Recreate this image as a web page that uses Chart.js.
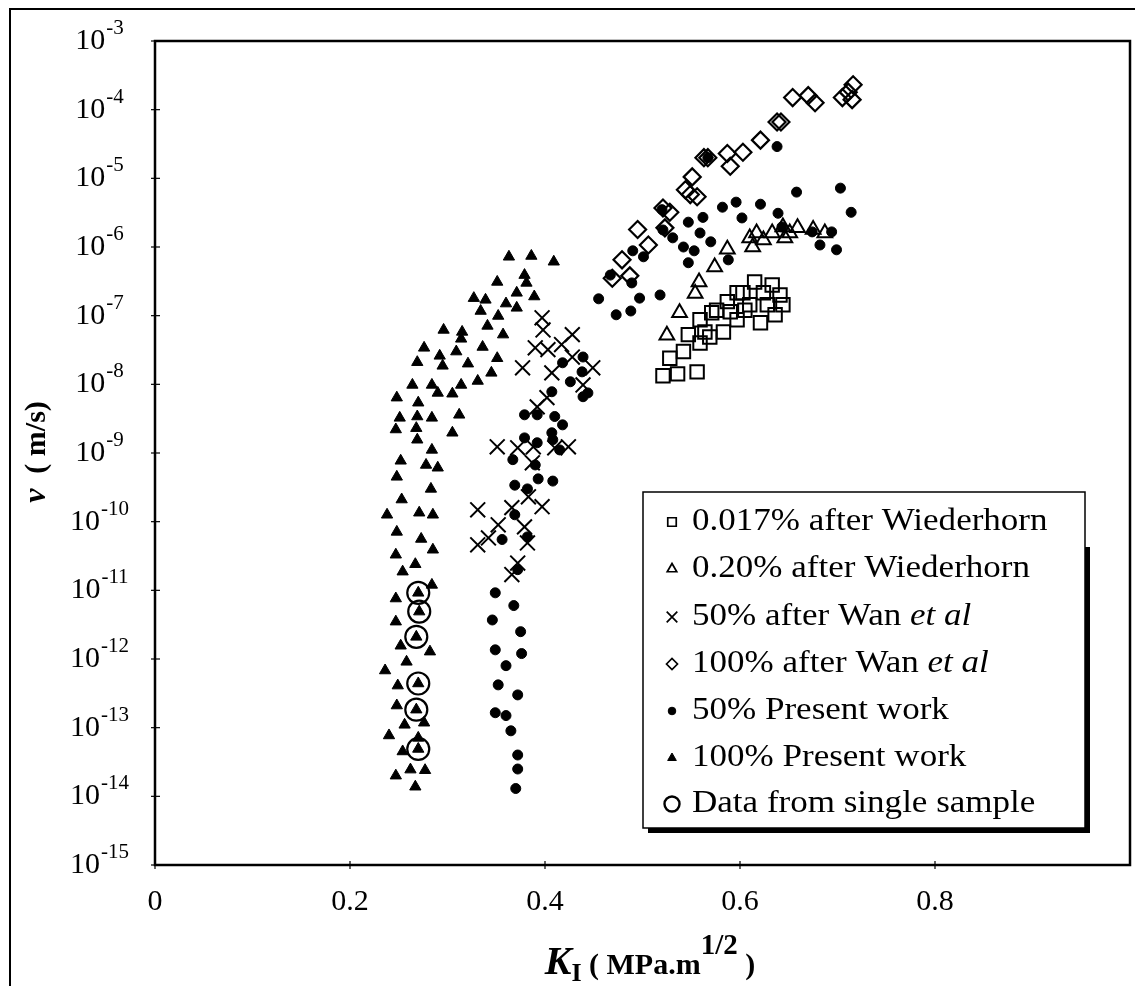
<!DOCTYPE html>
<html>
<head>
<meta charset="utf-8">
<script src="https://cdn.jsdelivr.net/npm/chart.js@4.4.0/dist/chart.umd.min.js"></script>
<style>
  html, body { margin: 0; padding: 0; background: #fff; }
  #wrap { width: 1135px; height: 986px; }
</style>
</head>
<body>
<div id="wrap"><canvas id="crackChart" width="1135" height="986"></canvas></div>
<script>
const serif = '"Liberation Serif", "Times New Roman", serif';

// K_I (MPa.m^1/2) / v (m/s)
const sqK = [0.521, 0.536, 0.556, 0.528, 0.542, 0.559, 0.564, 0.571, 0.576, 0.587, 0.597, 0.615, 0.624, 0.610,
             0.597, 0.583, 0.569, 0.621, 0.628, 0.547, 0.559, 0.633, 0.603, 0.641, 0.644, 0.636, 0.590, 0.605];
const sqV = [1.33e-8, 1.42e-8, 1.52e-8, 2.4e-8, 3.0e-8, 4.0e-8, 5.8e-8, 1.1e-7, 1.2e-7, 1.6e-7, 2.15e-7, 3.1e-7, 2.15e-7, 1.44e-7,
             8.7e-8, 5.8e-8, 4.9e-8, 7.9e-8, 1.44e-7, 5.3e-8, 8.7e-8, 2.8e-7, 2.15e-7, 2.0e-7, 1.44e-7, 1.03e-7, 1.14e-7, 1.2e-7];

const otK = [0.587, 0.574, 0.558, 0.554, 0.538, 0.525, 0.610, 0.617, 0.624, 0.613, 0.633, 0.644, 0.646, 0.651, 0.659, 0.675, 0.687];
const otV = [9.3e-7, 5.1e-7, 3.1e-7, 2.1e-7, 1.1e-7, 5.2e-8, 1.35e-6, 1.6e-6, 1.26e-6, 1.0e-6, 1.6e-6, 1.96e-6, 1.35e-6, 1.6e-6, 1.9e-6, 1.8e-6, 1.6e-6];

const xK = [0.397, 0.398, 0.390, 0.403, 0.428, 0.417, 0.377, 0.407, 0.428, 0.449, 0.439, 0.402, 0.392, 0.351, 0.372,
            0.388, 0.387, 0.424, 0.410, 0.331, 0.366, 0.397, 0.383, 0.352, 0.379, 0.342, 0.382, 0.331, 0.366, 0.372];
const xV = [9.3e-8, 6.2e-8, 3.4e-8, 3.2e-8, 5.3e-8, 3.8e-8, 1.74e-8, 1.47e-8, 2.5e-8, 1.74e-8, 9.8e-9, 6.4e-9, 4.7e-9, 1.23e-9, 1.19e-9,
            1.23e-9, 7.2e-10, 1.23e-9, 1.19e-9, 1.49e-10, 1.6e-10, 1.65e-10, 2.3e-10, 9.0e-11, 8.4e-11, 5.8e-11, 4.9e-11, 4.6e-11, 1.7e-11, 2.5e-11];

const dmK = [0.716, 0.705, 0.715, 0.711, 0.654, 0.670, 0.677, 0.638, 0.642, 0.621, 0.603, 0.587, 0.590, 0.567,
             0.563, 0.551, 0.544, 0.556, 0.549, 0.521, 0.528, 0.523, 0.495, 0.506, 0.479, 0.487, 0.469];
const dmV = [2.3e-4, 1.5e-4, 1.4e-4, 1.8e-4, 1.5e-4, 1.6e-4, 1.26e-4, 6.6e-5, 6.6e-5, 3.6e-5, 2.4e-5, 2.3e-5, 1.5e-5, 2.0e-5,
             2.0e-5, 1.05e-5, 6.8e-6, 5.4e-6, 5.8e-6, 3.7e-6, 3.2e-6, 1.9e-6, 1.8e-6, 1.07e-6, 6.5e-7, 3.8e-7, 3.5e-7];

const dotK = [0.638, 0.658, 0.703, 0.714, 0.694, 0.699, 0.682, 0.639, 0.621, 0.596, 0.582, 0.602, 0.562, 0.547, 0.559,
              0.570, 0.542, 0.553, 0.547, 0.588, 0.531, 0.520, 0.490, 0.501, 0.489, 0.467, 0.455, 0.473, 0.488, 0.497,
              0.518, 0.567, 0.643, 0.674, 0.521,
              0.439, 0.418, 0.438, 0.426, 0.439, 0.444, 0.407, 0.379, 0.392, 0.410, 0.418, 0.407, 0.408, 0.379, 0.392,
              0.415, 0.367, 0.390, 0.393, 0.408, 0.369, 0.382, 0.369, 0.382, 0.356,
              0.349, 0.346, 0.349, 0.352, 0.349, 0.372, 0.368, 0.375, 0.360, 0.372, 0.365, 0.372, 0.372, 0.370, 0.360, 0.376];
const dotV = [2.9e-5, 6.3e-6, 7.2e-6, 3.2e-6, 1.66e-6, 9.1e-7, 1.07e-6, 3.1e-6, 4.2e-6, 4.5e-6, 3.8e-6, 2.65e-6, 2.7e-6, 2.3e-6, 1.6e-6,
              1.19e-6, 1.0e-6, 8.8e-7, 5.9e-7, 6.5e-7, 1.36e-6, 3.5e-6, 8.8e-7, 7.2e-7, 3.0e-7, 3.9e-7, 1.76e-7, 1.03e-7, 1.17e-7, 1.8e-7,
              2.0e-7, 2.0e-5, 1.96e-6, 1.66e-6, 1.77e-6,
              2.5e-8, 2.06e-8, 1.52e-8, 1.09e-8, 6.6e-9, 7.5e-9, 7.8e-9, 3.6e-9, 3.6e-9, 3.4e-9, 2.57e-9, 1.97e-9, 1.56e-9, 1.66e-9, 1.41e-9,
              1.11e-9, 8.0e-10, 6.7e-10, 4.2e-10, 3.9e-10, 3.4e-10, 3.0e-10, 1.26e-10, 6.0e-11, 5.5e-11,
              9.2e-12, 3.7e-12, 1.36e-12, 4.2e-13, 1.65e-13, 2.0e-11, 6e-12, 2.5e-12, 8e-13, 3e-13, 9e-14, 4e-14, 2.5e-14, 1.3e-14, 1.5e-13, 1.2e-12];

const ftK = [0.363, 0.386, 0.409, 0.351, 0.379, 0.381, 0.327, 0.339, 0.334, 0.360, 0.371, 0.371, 0.389, 0.352, 0.341,
             0.296, 0.315, 0.314, 0.357, 0.336, 0.276, 0.269, 0.292, 0.295, 0.309, 0.321, 0.351, 0.345, 0.331, 0.264,
             0.284, 0.290, 0.305, 0.314, 0.248, 0.270, 0.251, 0.269, 0.284, 0.312, 0.247, 0.268, 0.269, 0.305, 0.284,
             0.252, 0.278, 0.290, 0.248, 0.283, 0.253, 0.238, 0.271, 0.285, 0.248, 0.273, 0.285, 0.247, 0.267, 0.254,
             0.284, 0.247, 0.270, 0.271, 0.247, 0.268, 0.252, 0.282, 0.258, 0.236, 0.249, 0.270, 0.248, 0.268, 0.256,
             0.276, 0.240, 0.254, 0.270, 0.247, 0.262, 0.277, 0.267, 0.270];
const ftV = [7.2e-7, 7.4e-7, 6.1e-7, 3.1e-7, 3.9e-7, 3.0e-7, 1.8e-7, 1.7e-7, 1.17e-7, 1.5e-7, 2.15e-7, 1.3e-7, 1.9e-7, 9.9e-8, 7.1e-8,
             6.2e-8, 5.8e-8, 4.6e-8, 5.3e-8, 3.5e-8, 3.4e-8, 2.1e-8, 2.6e-8, 1.86e-8, 3.0e-8, 2.0e-8, 2.4e-8, 1.47e-8, 1.12e-8, 9.8e-9,
             9.8e-9, 7.5e-9, 7.3e-9, 9.8e-9, 6.4e-9, 5.4e-9, 3.25e-9, 3.4e-9, 3.25e-9, 3.6e-9, 2.2e-9, 2.3e-9, 1.56e-9, 1.97e-9, 1.11e-9,
             7.7e-10, 6.7e-10, 6.1e-10, 4.5e-10, 3.0e-10, 2.1e-10, 1.26e-10, 1.35e-10, 1.26e-10, 7.1e-11, 5.6e-11, 3.9e-11, 3.3e-11, 2.4e-11, 1.87e-11,
             1.2e-11, 7.6e-12, 9.2e-12, 4.9e-12, 3.5e-12, 2.1e-12, 1.56e-12, 1.28e-12, 9.1e-13, 6.8e-13, 4.1e-13, 4.4e-13, 2.1e-13, 1.83e-13, 1.1e-13,
             1.18e-13, 7.7e-14, 4.5e-14, 4.9e-14, 2.0e-14, 2.45e-14, 2.4e-14, 1.38e-14, 7.1e-14];

const ssK = [0.270, 0.271, 0.268, 0.270, 0.268, 0.270];
const ssV = [9.2e-12, 4.9e-12, 2.1e-12, 4.4e-13, 1.83e-13, 4.9e-14];

const xTicks = [0, 0.2, 0.4, 0.6, 0.8];
const xTickText = ['0', '0.2', '0.4', '0.6', '0.8'];
const yTickExp = [-3, -4, -5, -6, -7, -8, -9, -10, -11, -12, -13, -14, -15];

const seriesNames = ['0.017% after Wiederhorn', '0.20% after Wiederhorn', '50% after Wan ', '100% after Wan ',
                     '50% Present work', '100% Present work', 'Data from single sample'];

const pts = (ks, vs) => ks.map((k, i) => ({ x: k, y: vs[i] }));
const none = 'rgba(0,0,0,0)';

function series(i, ks, vs, style, radius, fill, bw) {
  return {
    label: seriesNames[i],
    data: pts(ks, vs),
    pointStyle: style,
    pointRadius: radius,
    pointBorderWidth: bw,
    pointBorderColor: '#000',
    pointBackgroundColor: fill ? '#000' : none,
    showLine: false
  };
}

const datasets = [
  series(0, sqK, sqV, 'rect', 9.5, false, 2),
  series(1, otK, otV, 'triangle', 8.5, false, 2),
  series(2, xK, xV, 'crossRot', 10.5, false, 2),
  series(3, dmK, dmV, 'rectRot', 8.5, false, 2.2),
  series(4, dotK, dotV, 'circle', 5, true, 1),
  series(5, ftK, ftV, 'triangle', 6.5, true, 1),
  series(6, ssK, ssV, 'circle', 11, false, 2.2)
];

// frame, ticks, axis titles and legend drawn by hand
const decor = {
  id: 'decor',
  afterDraw(chart) {
    const { ctx, chartArea: a, scales: { x, y } } = chart;
    ctx.save();
    ctx.strokeStyle = '#000';
    ctx.fillStyle = '#000';

    ctx.lineWidth = 2;
    ctx.strokeRect(10, 9, 1150, 1000);
    ctx.lineWidth = 2.5;
    ctx.strokeRect(a.left, a.top, a.right - a.left, a.bottom - a.top);

    ctx.lineWidth = 1.2;
    yTickExp.forEach(e => {
      const py = y.getPixelForValue(Math.pow(10, e));
      ctx.beginPath(); ctx.moveTo(a.left - 4, py); ctx.lineTo(a.left + 5, py); ctx.stroke();
      const sup = '-' + (-e);
      ctx.font = `30px ${serif}`;
      const wb = ctx.measureText('10').width;
      ctx.font = `21px ${serif}`;
      const ws = ctx.measureText(sup).width;
      const x0 = 99 - (wb + ws) / 2;
      ctx.textAlign = 'left';
      ctx.textBaseline = 'alphabetic';
      ctx.font = `30px ${serif}`;
      ctx.fillText('10', x0, py + 8);
      ctx.font = `21px ${serif}`;
      ctx.fillText(sup, x0 + wb + 1, py - 7);
    });

    xTicks.forEach((t, i) => {
      const px = x.getPixelForValue(t);
      ctx.beginPath(); ctx.moveTo(px, a.bottom - 4); ctx.lineTo(px, a.bottom + 4); ctx.stroke();
      ctx.font = `30px ${serif}`;
      ctx.textAlign = 'center';
      ctx.textBaseline = 'alphabetic';
      ctx.fillText(xTickText[i], px, 910);
    });

    // x title: K_I ( MPa.m^1/2 )
    const parts = [
      { t: 'K', f: `italic bold 40px ${serif}`, dy: 0 },
      { t: 'I', f: `bold 26px ${serif}`, dy: 7 },
      { t: ' ( MPa.m', f: `bold 30px ${serif}`, dy: 0 },
      { t: '1/2', f: `bold 29px ${serif}`, dy: -20 },
      { t: ' )', f: `bold 30px ${serif}`, dy: 0 }
    ];
    let total = 0;
    parts.forEach(p => { ctx.font = p.f; p.w = ctx.measureText(p.t).width; total += p.w; });
    let cx = 650 - total / 2;
    ctx.textAlign = 'left';
    parts.forEach(p => { ctx.font = p.f; ctx.fillText(p.t, cx, 974 + p.dy); cx += p.w; });

    // y title: v ( m/s)
    ctx.translate(45, 452);
    ctx.rotate(-Math.PI / 2);
    const yparts = [
      { t: 'v', f: `italic bold 32px ${serif}` },
      { t: '  ( m/s)', f: `bold 30px ${serif}` }
    ];
    total = 0;
    yparts.forEach(p => { ctx.font = p.f; p.w = ctx.measureText(p.t).width; total += p.w; });
    cx = -total / 2;
    yparts.forEach(p => { ctx.font = p.f; ctx.fillText(p.t, cx, 0); cx += p.w; });
    ctx.setTransform(1, 0, 0, 1, 0, 0);

    // legend box with drop shadow
    const lx = 643, ly = 492, lw = 442, lh = 336;
    ctx.fillRect(lx + lw, ly + 55, 5, lh - 50);
    ctx.fillRect(lx + 5, ly + lh, lw, 5);
    ctx.fillStyle = '#fff';
    ctx.fillRect(lx, ly, lw, lh);
    ctx.fillStyle = '#000';
    ctx.lineWidth = 1.5;
    ctx.strokeRect(lx, ly, lw, lh);

    const rowY = [522, 569, 617, 664, 711, 758, 804];
    const legendMarks = [
      { s: 'rect', r: 6, fill: false, bw: 1.7 },
      { s: 'triangle', r: 5.5, fill: false, bw: 1.7 },
      { s: 'crossRot', r: 7.5, fill: false, bw: 1.7 },
      { s: 'rectRot', r: 5.5, fill: false, bw: 1.7 },
      { s: 'circle', r: 3.8, fill: true, bw: 1 },
      { s: 'triangle', r: 5, fill: true, bw: 1 },
      { s: 'circle', r: 7.5, fill: false, bw: 2.4 }
    ];
    const stretch = 1.13;
    legendMarks.forEach((m, i) => {
      ctx.fillStyle = m.fill ? '#000' : '#fff';
      ctx.strokeStyle = '#000';
      ctx.lineWidth = m.bw;
      Chart.helpers.drawPoint(ctx, { pointStyle: m.s, radius: m.r, borderWidth: m.bw, rotation: 0 }, 672, rowY[i]);
      ctx.fillStyle = '#000';
      ctx.save();
      ctx.translate(692, rowY[i]);
      ctx.scale(stretch, 1);
      ctx.font = `31px ${serif}`;
      ctx.textAlign = 'left';
      ctx.textBaseline = 'middle';
      ctx.fillText(seriesNames[i], 0, 0);
      if (i === 2 || i === 3) {
        const w = ctx.measureText(seriesNames[i]).width;
        ctx.font = `italic 31px ${serif}`;
        ctx.fillText('et al', w, 0);
      }
      ctx.restore();
    });
    ctx.restore();
  }
};

new Chart(document.getElementById('crackChart').getContext('2d'), {
  type: 'scatter',
  data: { datasets },
  options: {
    responsive: false,
    animation: false,
    events: [],
    layout: { autoPadding: false, padding: { left: 0, top: 41, right: 5, bottom: 0 } },
    plugins: { legend: { display: false }, tooltip: { enabled: false } },
    scales: {
      x: {
        type: 'linear', min: 0, max: 1.0,
        ticks: { display: false }, grid: { display: false }, border: { display: false },
        afterFit(s) { s.height = 121; }
      },
      y: {
        type: 'logarithmic', min: 1e-15, max: 1e-3,
        ticks: { display: false }, grid: { display: false }, border: { display: false },
        afterFit(s) { s.width = 155; }
      }
    }
  },
  plugins: [decor]
});
</script>
</body>
</html>
